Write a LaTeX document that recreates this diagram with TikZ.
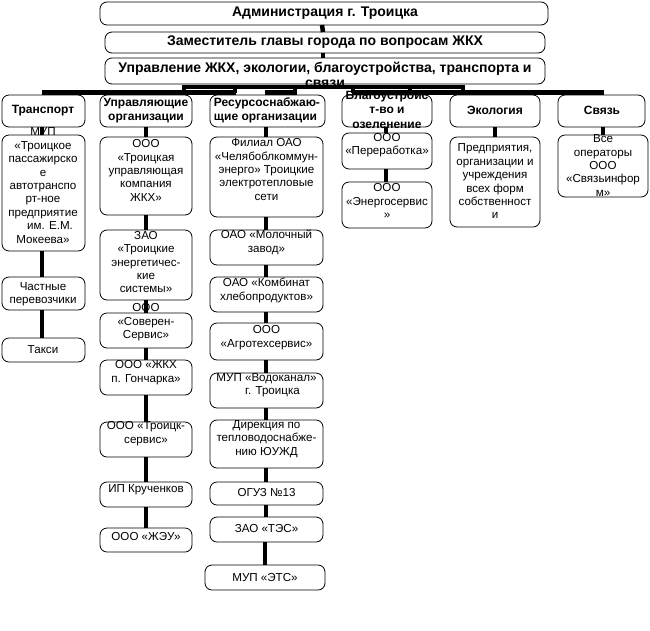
\documentclass[tikz,border=0pt]{standalone}
\usepackage{fontspec}
\setmainfont{Liberation Sans}
\usetikzlibrary{calc}
\newcommand\mkbox[5]{\node[box, anchor=north west, minimum width={#4-#2}, minimum height={#5-#3}] (#1) at (#2,#3) {};}
\begin{document}
\begin{tikzpicture}[x=1pt,y=-1pt,
  box/.style={draw, rounded corners=7pt, line width=0.8pt, fill=white, inner sep=0pt, outer sep=0pt},
  link/.style={line width=4.5pt},
  txt/.style={inner sep=0pt, align=center, font=\fontsize{11.6}{13.4}\selectfont},
  head/.style={inner sep=0pt, align=center, font=\fontsize{14}{15}\selectfont\bfseries},
  cat/.style={inner sep=0pt, align=center, font=\fontsize{12}{14.5}\selectfont\bfseries}]
\useasboundingbox[fill=white] (0,0) rectangle (650,630);
% top boxes
\mkbox{adm}{100}{2}{548}{25}
\mkbox{dep}{105}{32}{545}{53}
\mkbox{upr}{105}{58}{545}{84}
\node[head] (tadm) at (325,13.5) {Администрация г. Троицка};
\node[head] (tdep) at (325,42.5) {Заместитель главы города по вопросам ЖКХ};
\node[head] (tupr) at (325,75) {Управление ЖКХ, экологии, благоустройства, транспорта и\\связи};
% category boxes
\mkbox{ctr}{2}{95}{85}{127}
\mkbox{cup}{100}{95}{192}{127}
\mkbox{cre}{210}{95}{325}{127}
\mkbox{cbl}{342}{95}{432}{127}
\mkbox{cek}{450}{95}{540}{127}
\mkbox{csv}{558}{95}{645}{127}
\node[cat] at (43,110.5) {Транспорт};
\node[cat] at (146,110.5) {Управляющие\\организации};
\node[cat, align=left] at (267,110.5) {Ресурсоснабжаю-\\щие организации};
\node[cat] at (387,109.5) {Благоустройс\\т-во и\\озеленение};
\node[cat] at (495,110.5) {Экология};
\node[cat] at (602,110.5) {Связь};
% transport column
\mkbox{t1}{2}{135}{85}{251}
\mkbox{t2}{2}{277}{85}{310}
\mkbox{t3}{2}{338}{85}{362}
\node[txt] at (43,185.5) {МУП\\«Троицкое\\пассажирско\\е\\автотранспо\\рт-ное\\предприятие\\\hspace{14pt}им. Е.М.\\Мокеева»};
\node[txt] at (43,294.5) {Частные\\перевозчики};
\node[txt] at (43,350) {Такси};
% managing companies
\mkbox{u1}{100}{137}{192}{215}
\mkbox{u2}{100}{230}{192}{300}
\mkbox{u3}{100}{313}{192}{348}
\mkbox{u4}{100}{360}{192}{395}
\mkbox{u5}{100}{422}{192}{457}
\mkbox{u6}{100}{482}{192}{507}
\mkbox{u7}{100}{528}{192}{552}
\node[txt] at (146,170.5) {ООО\\«Троицкая\\управляющая\\компания\\ЖКХ»};
\node[txt] at (146,262) {ЗАО\\«Троицкие\\энергетичес-\\кие\\системы»};
\node[txt] at (146,322.5) {ООО\\«Соверен-\\Сервис»};
\node[txt] at (146,372.5) {ООО «ЖКХ\\п. Гончарка»};
\node[txt] at (146,433.5) {ООО «Троицк-\\сервис»};
\node[txt] at (146,490) {ИП Крученков};
\node[txt] at (146,536) {ООО «ЖЭУ»};
% resources
\mkbox{r1}{210}{137}{323}{217}
\mkbox{r2}{210}{230}{323}{265}
\mkbox{r3}{210}{277}{323}{312}
\mkbox{r4}{210}{323}{323}{360}
\mkbox{r5}{210}{373}{323}{408}
\mkbox{r6}{210}{420}{323}{468}
\mkbox{r7}{210}{482}{323}{505}
\mkbox{r8}{210}{517}{323}{542}
\mkbox{r9}{205}{565}{325}{590}
\node[txt] at (266.5,169.5) {Филиал ОАО\\«Челябоблкоммун-\\энерго» Троицкие\\электротепловые\\сети};
\node[txt] at (266.5,242.5) {ОАО «Молочный\\завод»};
\node[txt] at (266.5,290.5) {ОАО «Комбинат\\хлебопродуктов»};
\node[txt] at (266.5,337.5) {ООО\\«Агротехсервис»};
\node[txt] at (266.5,385.5) {МУП «Водоканал»\\\hspace{12pt}г. Троицка};
\node[txt] at (266.5,439) {Дирекция по\\тепловодоснабже-\\нию ЮУЖД};
\node[txt] at (266.5,492) {ОГУЗ №13};
\node[txt] at (266.5,528) {ЗАО «ТЭС»};
\node[txt] at (265,577) {МУП «ЭТС»};
% improvement
\mkbox{b1}{342}{133}{432}{169}
\mkbox{b2}{342}{182}{432}{228}
\node[txt] at (387,145) {ООО\\«Переработка»};
\node[txt] at (387,201) {ООО\\«Энергосервис\\»};
% ecology
\mkbox{e1}{450}{137}{540}{227}
\node[txt] at (495,181.5) {Предприятия,\\организации и\\учреждения\\всех форм\\собственност\\и};
% communications
\mkbox{s1}{558}{135}{648}{197}
\node[txt] at (603,165.5) {Все\\операторы\\ООО\\«Связьинфор\\м»};
% connectors
\draw[link] ($(adm.south)+(-2,0)$) -- ($(dep.north)+(-2,0)$);
\draw[link] ($(dep.south)+(-2,0)$) -- ($(upr.north)+(-2,0)$);
\foreach \a/\b/\x in {ctr/t1/42, t1/t2/42, t2/t3/42,
  cup/u1/146, u1/u2/146, u2/u3/146, u3/u4/146, u4/u5/146, u5/u6/146, u6/u7/146,
  cre/r1/266, r1/r2/266, r2/r3/266, r3/r4/266, r4/r5/266, r5/r6/266, r6/r7/266, r7/r8/266, r8/r9/265,
  cbl/b1/386, b1/b2/386, cek/e1/495, csv/s1/603}
  \draw[link] (\x,0 |- \a.south) -- (\x,0 |- \b.north);
% distribution bars
\coordinate (p1) at (182,87);
\coordinate (p2) at (465,87);
\coordinate (q1) at (42,92.5);
\coordinate (q2) at (236,92.5);
\coordinate (q3) at (265,92.5);
\coordinate (q4) at (297,92.5);
\coordinate (q5) at (352,92.5);
\coordinate (q6) at (604,92.5);
\draw[link] (p1) -- (p2);
\draw[link] (q1) -- (q2);
\draw[link] (q3) -- (q4);
\draw[link] (q5) -- (q6);
\foreach \x in {184,235,295,353,410,463}
  \draw[link] (\x,87) -- (\x,92.5);
\end{tikzpicture}
\end{document}
